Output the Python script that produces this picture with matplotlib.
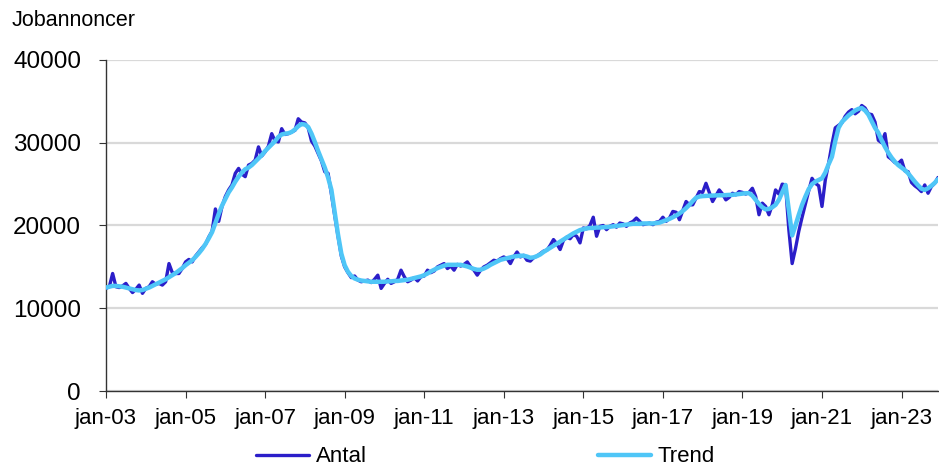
import matplotlib
matplotlib.use("Agg")
import matplotlib.pyplot as plt
import numpy as np

# monthly job ads, jan 2003 - dec 2023 (one row per year)
antal = [
    12400, 12600, 14200, 12600, 12500, 12700, 13000, 12400, 11900, 12300, 12800, 11800,  # 2003
    12400, 12600, 13200, 12900, 13000, 12800, 13200, 15400, 14300, 14200, 14200, 14800,  # 2004
    15600, 15900, 15600, 16300, 16800, 17300, 17700, 18600, 19300, 22000, 20500, 22300,  # 2005
    23500, 24300, 24900, 26300, 26900, 26200, 25900, 27300, 27500, 27900, 29500, 28400,  # 2006
    28900, 29600, 31100, 30200, 30100, 31700, 31000, 31100, 31300, 31500, 32900, 32500,  # 2007
    32400, 31800, 30200, 29600, 28700, 27800, 26500, 26300, 23800, 21200, 18700, 16300,  # 2008
    15000, 14300, 13700, 13900, 13400, 13200, 13300, 13400, 13100, 13500, 14000, 12400,  # 2009
    13000, 13500, 13000, 13200, 13500, 14600, 13800, 13200, 13400, 13700, 13300, 13800,  # 2010
    13900, 14600, 14300, 14500, 15000, 15200, 15400, 14800, 15100, 14600, 15300, 15100,  # 2011
    15300, 15600, 15000, 14600, 14000, 14600, 15000, 15200, 15500, 15800, 15700, 16000,  # 2012
    16200, 16000, 15400, 16200, 16800, 16200, 16400, 15800, 15700, 16100, 16300, 16600,  # 2013
    16900, 17000, 17600, 18300, 17800, 17100, 18200, 18600, 18400, 18900, 18700, 17900,  # 2014
    19700, 19600, 20000, 21000, 18700, 19900, 20000, 19500, 19900, 20100, 19800, 20300,  # 2015
    20200, 19900, 20300, 20500, 20900, 20500, 20100, 20200, 20300, 20100, 20400, 20500,  # 2016
    21000, 20500, 20900, 21700, 21600, 20700, 21800, 22900, 22500, 22500, 23300, 24100,  # 2017
    24000, 25100, 24000, 22900, 23600, 24300, 23800, 23100, 23400, 23900, 23700, 24100,  # 2018
    24000, 23800, 24000, 24500, 23500, 21300, 22700, 22300, 21300, 22500, 24300, 23800,  # 2019
    25000, 24900, 19500, 15400, 17200, 19300, 21000, 22600, 24200, 25700, 25100, 24800,  # 2020
    22300, 25500, 27500, 29800, 31800, 32100, 32400, 33200, 33700, 34000, 33500, 33800,  # 2021
    34500, 34200, 33500, 33400, 32500, 30300, 30000, 31100, 28300, 28000, 27600, 27500,  # 2022
    27900, 26600, 26500, 25200, 24800, 24500, 24100, 24900, 23900, 24700, 25100, 25800,  # 2023
]

trend = [
    12500, 12600, 12700, 12700, 12650, 12600, 12500, 12400, 12300, 12200, 12150, 12200,  # 2003
    12350, 12500, 12700, 12900, 13100, 13300, 13500, 13750, 14000, 14250, 14550, 14850,  # 2004
    15200, 15500, 15800, 16200, 16650, 17150, 17750, 18450, 19200, 20300, 21400, 22400,  # 2005
    23200, 24000, 24600, 25300, 25900, 26400, 26800, 27000, 27300, 27700, 28100, 28500,  # 2006
    29000, 29400, 29800, 30200, 30700, 31000, 31100, 31150, 31300, 31600, 32000, 32250,  # 2007
    32200, 31900, 31100, 30100, 29000, 28000, 27000, 25800, 24300, 21600, 18900, 16600,  # 2008
    15200, 14400, 13900, 13600, 13450, 13350, 13300, 13250, 13200, 13200, 13200, 13200,  # 2009
    13200, 13250, 13250, 13300, 13300, 13350, 13400, 13450, 13550, 13650, 13750, 13850,  # 2010
    14000, 14200, 14450, 14650, 14850, 15000, 15150, 15250, 15250, 15250, 15250, 15250,  # 2011
    15150, 15050, 14900, 14750, 14650, 14650, 14800, 15000, 15250, 15450, 15650, 15850,  # 2012
    15950, 16050, 16150, 16250, 16300, 16350, 16350, 16250, 16100, 16150, 16300, 16500,  # 2013
    16800, 17050, 17300, 17550, 17800, 18050, 18300, 18550, 18800, 19050, 19250, 19450,  # 2014
    19550, 19650, 19700, 19700, 19750, 19750, 19800, 19800, 19850, 19900, 19950, 20000,  # 2015
    20050, 20100, 20150, 20200, 20200, 20200, 20250, 20250, 20250, 20250, 20300, 20350,  # 2016
    20500, 20650, 20800, 21000, 21200, 21450, 21750, 22100, 22500, 22950, 23350, 23500,  # 2017
    23550, 23580, 23600, 23620, 23650, 23650, 23650, 23680, 23700, 23700, 23750, 23800,  # 2018
    23850, 23900, 23900, 23600, 23100, 22600, 22200, 21950, 22000, 22200, 22500, 23100,  # 2019
    24000, 24900, 21800, 18800, 20000, 21300, 22500, 23500, 24400, 25000, 25300, 25500,  # 2020
    25700, 26400, 27400, 28300, 30200, 31800, 32500, 32900, 33300, 33600, 33900, 34100,  # 2021
    34200, 33900, 33400, 32600, 31800, 31200, 30300, 29500, 28800, 28200, 27700, 27300,  # 2022
    27000, 26700, 26300, 25800, 25300, 24850, 24450, 24300, 24500, 24800, 25150, 25600,  # 2023
]

tick_labels = ["jan-03", "jan-05", "jan-07", "jan-09", "jan-11", "jan-13",
               "jan-15", "jan-17", "jan-19", "jan-21", "jan-23"]
y_ticks = [0, 10000, 20000, 30000, 40000]

plt.rcParams["font.family"] = ["Liberation Sans", "DejaVu Sans"]

fig = plt.figure(figsize=(9.39, 4.66), dpi=100)
ax = fig.add_axes([106 / 939, 75 / 466, 832 / 939, 331 / 466])

months = np.arange(len(antal))
ax.plot(months, antal, color="#2b1ec9", linewidth=2.4, label="Antal", zorder=3,
        solid_joinstyle="round", solid_capstyle="round")
ax.plot(months, trend, color="#4fc6f7", linewidth=3.2, label="Trend", zorder=4,
        solid_joinstyle="round", solid_capstyle="round")

ax.set_xlim(0, 251)
ax.set_ylim(0, 40000)
ax.set_xticks(np.arange(len(tick_labels)) * 24)
ax.set_xticklabels(tick_labels)
ax.set_yticks(y_ticks)
ax.set_yticklabels([str(v) for v in y_ticks])

ax.grid(axis="y", color="#d9d9d9", linewidth=1.6)
ax.set_axisbelow(True)
for side in ["top", "right"]:
    ax.spines[side].set_visible(False)
for side in ["left", "bottom"]:
    ax.spines[side].set_color("#333333")
    ax.spines[side].set_linewidth(1.0)

ax.tick_params(axis="x", labelsize=16, length=5, color="#333333", pad=7)
ax.tick_params(axis="y", labelsize=17.5, length=5, color="#333333", pad=13)

fig.text(12 / 939, 1 - 20 / 466, "Jobannoncer", fontsize=15.5, va="center", ha="left")

fig.legend(loc="center", bbox_to_anchor=(0.517, 1 - 457 / 466), ncol=2, frameon=False,
           fontsize=16, handlelength=2.4, columnspacing=10.4, handletextpad=0.3,
           borderaxespad=0)

fig.savefig("out.png", dpi=100)
